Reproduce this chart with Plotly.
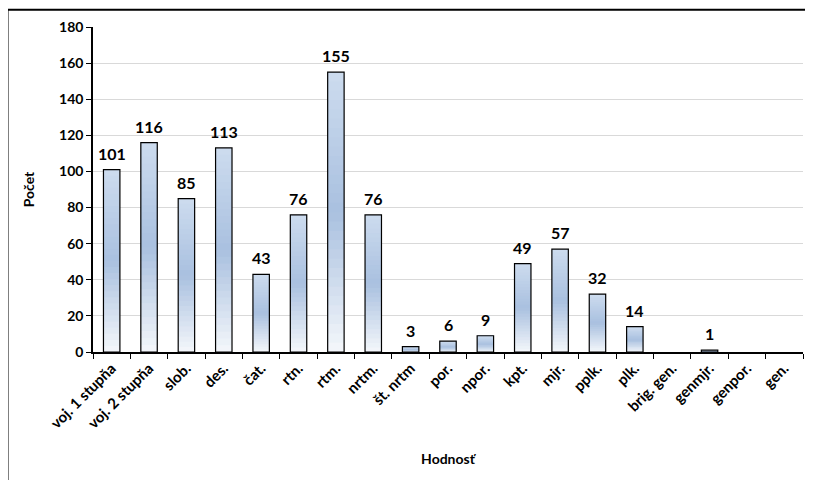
import plotly.graph_objects as go

hodnosti = ['voj. 1 stupňa', 'voj. 2 stupňa', 'slob.', 'des.', 'čat.', 'rtn.', 'rtm.', 'nrtm.',
            'št. nrtm', 'por.', 'npor.', 'kpt.', 'mjr.', 'pplk.', 'plk.', 'brig. gen.',
            'genmjr.', 'genpor.', 'gen.']
pocet = [101, 116, 85, 113, 43, 76, 155, 76, 3, 6, 9, 49, 57, 32, 14, 0, 1, 0, 0]

FONT = 'Lato'
N_SEG = 30

# page body has an 8px margin, so the figure sits at (8, 8) in the screenshot
PL, PR, PT, PB = 85, 795, 19, 344


def mix(c1, c2, t):
    a = [int(c1[i:i + 2], 16) for i in (1, 3, 5)]
    b = [int(c2[i:i + 2], 16) for i in (1, 3, 5)]
    return 'rgb(%d,%d,%d)' % tuple(round(a[k] + (b[k] - a[k]) * t) for k in range(3))


def grad(f):
    # f = 0 bottom, 1 top
    if f < 0.5:
        return mix('#f4f7fb', '#a9c0df', f / 0.5)
    return mix('#a9c0df', '#cddcef', (f - 0.5) / 0.5)


fig = go.Figure()

# gradient fill built from slices of each bar (slightly overlapping to hide seams)
for s in range(N_SEG):
    f0, f1 = s / N_SEG, min((s + 1.6) / N_SEG, 1.0)
    fig.add_trace(go.Bar(
        x=hodnosti, y=[v * (f1 - f0) if v else None for v in pocet],
        base=[v * f0 for v in pocet],
        width=0.44, marker=dict(color=grad((s + 0.5) / N_SEG), line=dict(width=0)),
        hoverinfo='skip', showlegend=False))

# outline
fig.add_trace(go.Bar(
    x=hodnosti, y=[v if v else None for v in pocet], width=0.44,
    marker=dict(color='rgba(0,0,0,0)', line=dict(color='#000000', width=1.2)),
    showlegend=False))

# value labels
for h, v in zip(hodnosti, pocet):
    if v:
        fig.add_annotation(x=h, y=v, text=str(v), showarrow=False,
                           yanchor='bottom', yshift=5,
                           font=dict(family=FONT, size=16, color='#000000', weight='bold'))

fig.update_layout(
    width=813, height=480, barmode='overlay',
    margin=dict(l=PL, r=813 - PR, t=PT, b=480 - PB),
    paper_bgcolor='white', plot_bgcolor='white',
    font=dict(family=FONT, color='#000000'),
    xaxis=dict(
        type='category', tickson='boundaries', ticks='outside', ticklen=5,
        tickcolor='#000000', tickwidth=1.2, automargin=False,
        showline=True, linecolor='#000000', linewidth=1.5, showgrid=False,
        tickangle=-45, tickfont=dict(family=FONT, size=15, weight='bold'),
        title=dict(text='Hodnosť', font=dict(family=FONT, size=14, weight='bold'),
                   standoff=23)),
    yaxis=dict(
        range=[0, 180], dtick=20, ticks='outside', ticklen=5, tickcolor='#000000',
        tickwidth=1.2, showline=True, linecolor='#000000', linewidth=1.5,
        gridcolor='#d9d9d9', gridwidth=1, zeroline=False, automargin=False,
        tickfont=dict(family=FONT, size=14, weight='bold'),
        title=dict(text='Počet', font=dict(family=FONT, size=14, weight='bold'),
                   standoff=21)),
    shapes=[dict(type='rect', xref='paper', yref='paper',
                 x0=(-0.5 - PL) / (PR - PL), x1=1.03,
                 y0=-0.6, y1=(PB - 1.7) / (PB - PT),
                 line=dict(color='#000000', width=2), layer='below')],
)

fig.write_html('out.html')
